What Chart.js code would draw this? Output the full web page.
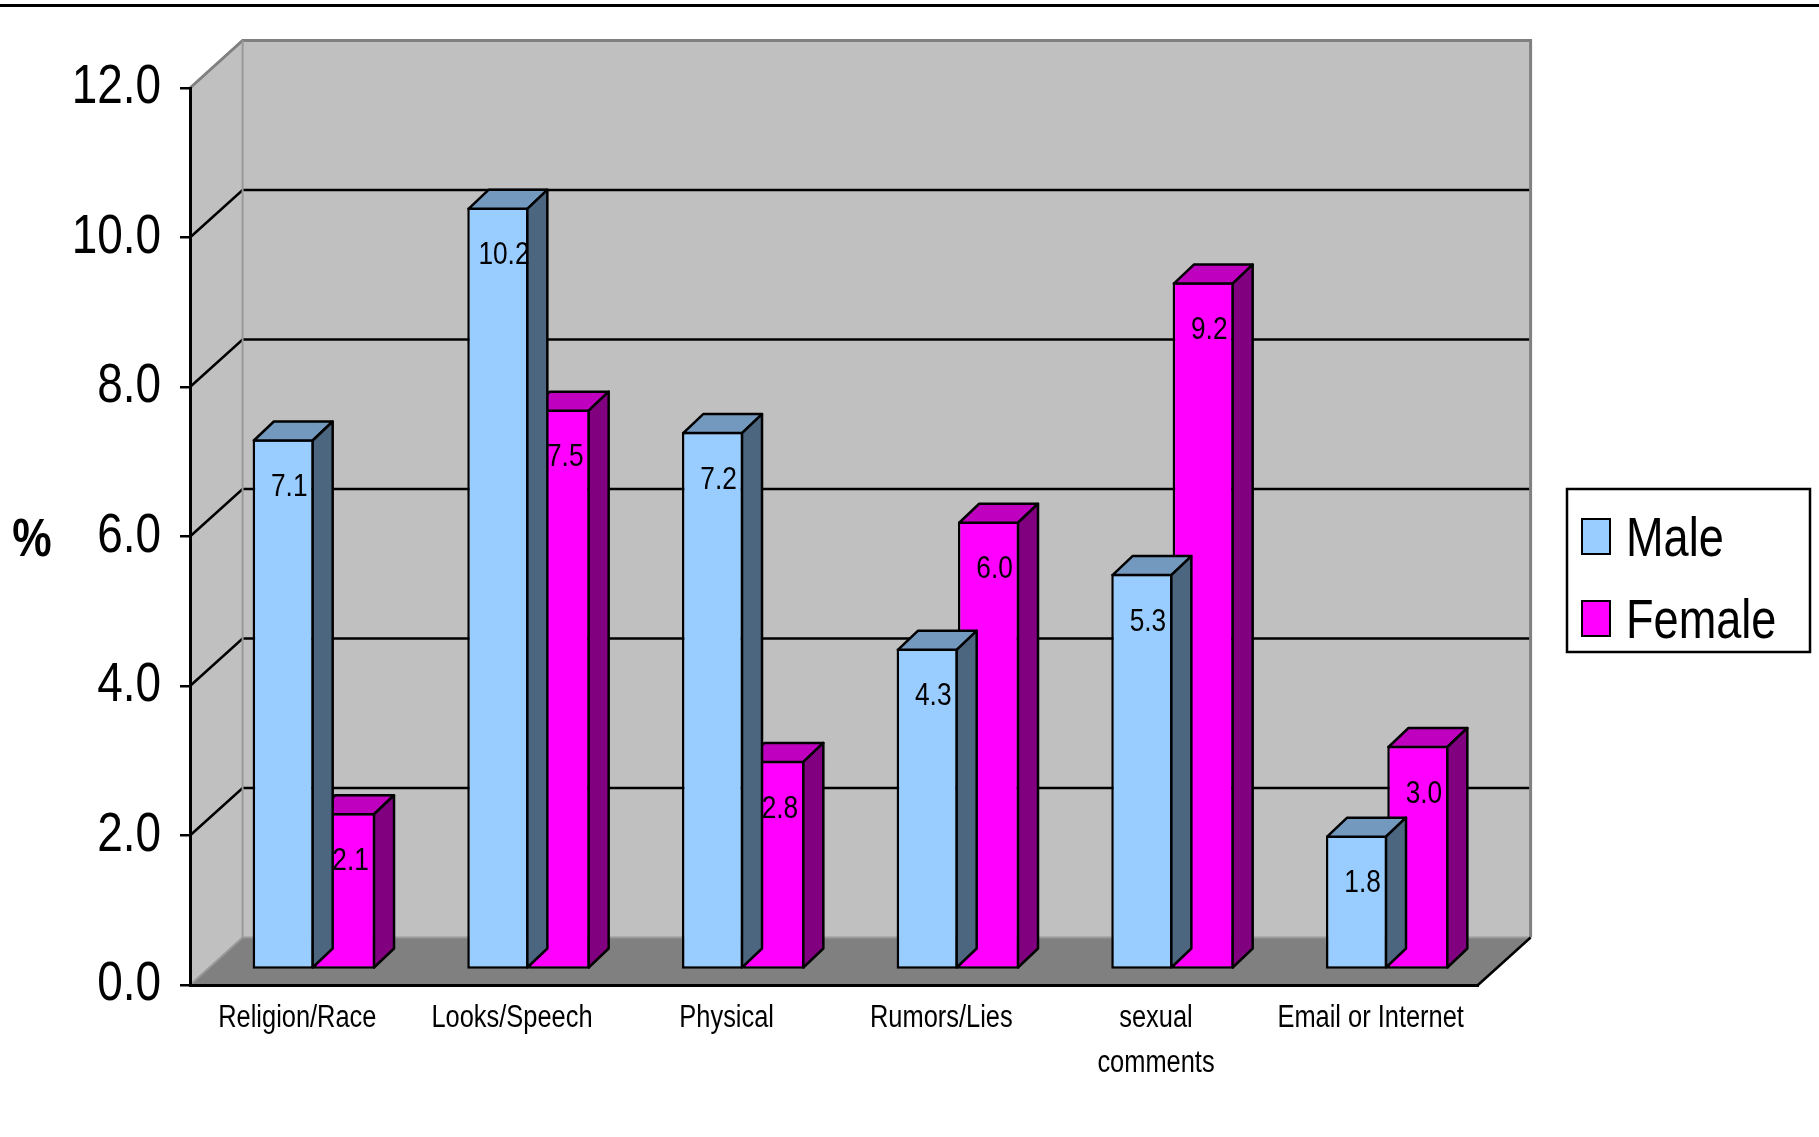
<!DOCTYPE html>
<html>
<head>
<meta charset="utf-8">
<script src="https://cdn.jsdelivr.net/npm/chart.js@4.4.0/dist/chart.umd.min.js"></script>
<style>
  html, body { margin: 0; padding: 0; background: #fff; }
</style>
</head>
<body>
<canvas id="barChart" width="1819" height="1137"></canvas>
<script>
const categories = ['Religion/Race', 'Looks/Speech', 'Physical', 'Rumors/Lies', ['sexual', 'comments'], 'Email or Internet'];
const male = [7.1, 10.2, 7.2, 4.3, 5.3, 1.8];
const female = [2.1, 7.5, 2.8, 6.0, 9.2, 3.0];
const seriesNames = ['Male', 'Female'];
const yTicks = [0, 2, 4, 6, 8, 10, 12];

const FONT = "'Liberation Sans', Arial, sans-serif";
const SQUEEZE = 0.82; // oryginal ma waskie, sciesnione litery
const frontColors = ['#99CCFF', '#FF00FF'];
const topColors = ['#7399BF', '#BF00BF'];   // gorna scianka
const sideColors = ['#4D6680', '#800080'];  // boczna scianka

// glebia wykresu 3D
const DX = 52.6, DY = 47.5;
const BAR_SHIFT_X = 16.6, BAR_SHIFT_Y = 15;
const BAR_DX = 20, BAR_DY = 19;

function poly(ctx, pts) {
    ctx.beginPath();
    ctx.moveTo(pts[0][0], pts[0][1]);
    for (let i = 1; i < pts.length; i++) ctx.lineTo(pts[i][0], pts[i][1]);
    ctx.closePath();
    ctx.fill();
    ctx.stroke();
}

function line(ctx, pts) {
    ctx.beginPath();
    ctx.moveTo(pts[0][0], pts[0][1]);
    for (let i = 1; i < pts.length; i++) ctx.lineTo(pts[i][0], pts[i][1]);
    ctx.stroke();
}

// kazdy tekst sciskany w poziomie wokol swojego punktu zaczepienia
function narrowText(ctx) {
    const orig = ctx.fillText;
    ctx.fillText = function (text, x, y) {
        this.save();
        this.translate(x, y);
        this.scale(SQUEEZE, 1);
        orig.call(this, text, 0, 0);
        this.restore();
    };
}

const walls = {
    id: 'walls',
    beforeDraw(chart) {
        const { ctx, chartArea: a, scales: { y } } = chart;
        const top = y.getPixelForValue(yTicks[yTicks.length - 1]);
        const bot = y.getPixelForValue(0);
        ctx.save();
        // czarna linia u gory
        ctx.fillStyle = '#000';
        ctx.fillRect(0, 4, chart.width, 3);

        ctx.fillStyle = '#C0C0C0';
        ctx.beginPath();
        ctx.moveTo(a.left, top);
        ctx.lineTo(a.left + DX, top - DY);
        ctx.lineTo(a.left + DX, bot - DY);
        ctx.lineTo(a.left, bot);
        ctx.closePath();
        ctx.fill();
        ctx.fillRect(a.left + DX, top - DY, a.right - a.left, bot - top);

        // podloga
        ctx.fillStyle = '#808080';
        ctx.beginPath();
        ctx.moveTo(a.left, bot);
        ctx.lineTo(a.left + DX, bot - DY);
        ctx.lineTo(a.right + DX, bot - DY);
        ctx.lineTo(a.right, bot);
        ctx.closePath();
        ctx.fill();

        // linie siatki
        ctx.strokeStyle = '#000';
        ctx.lineWidth = 2.5;
        yTicks.slice(1, -1).forEach(v => {
            const py = y.getPixelForValue(v);
            line(ctx, [[a.left, py], [a.left + DX, py - DY], [a.right + DX, py - DY]]);
        });

        // krawedzie scian
        ctx.strokeStyle = '#808080';
        ctx.lineWidth = 3;
        line(ctx, [[a.left, top], [a.left + DX, top - DY], [a.right + DX, top - DY], [a.right + DX, bot - DY]]);
        ctx.lineWidth = 2;
        ctx.strokeStyle = '#999999';
        line(ctx, [[a.left + DX, top - DY], [a.left + DX, bot - DY]]);
        line(ctx, [[a.left, bot], [a.left + DX, bot - DY], [a.right + DX, bot - DY]]);
        ctx.strokeStyle = '#000';
        ctx.lineWidth = 2.5;
        line(ctx, [[a.right + DX, bot - DY], [a.right, bot]]);
        ctx.restore();
    },
    beforeDatasetDraw(chart) {
        chart.ctx.save();
        chart.ctx.translate(BAR_SHIFT_X, -BAR_SHIFT_Y); // slupki troche w glab
    },
    afterDatasetDraw(chart, args) {
        const ctx = chart.ctx;
        const k = args.index;
        const values = chart.data.datasets[k].data;
        ctx.lineWidth = 2.5;
        ctx.strokeStyle = '#000';
        ctx.lineJoin = 'round';
        args.meta.data.forEach((bar, i) => {
            const p = bar.getProps(['x', 'y', 'base', 'width'], true);
            const L = p.x - p.width / 2 + 1.25, R = p.x + p.width / 2 - 1.25;
            const T = p.y + 1.25, B = p.base - 1.25;
            ctx.fillStyle = topColors[k];
            poly(ctx, [[L, T], [L + BAR_DX, T - BAR_DY], [R + BAR_DX, T - BAR_DY], [R, T]]);
            ctx.fillStyle = sideColors[k];
            poly(ctx, [[R, T], [R + BAR_DX, T - BAR_DY], [R + BAR_DX, B - BAR_DY], [R, B]]);

            ctx.fillStyle = '#000';
            ctx.font = '32px ' + FONT;
            ctx.textAlign = 'center';
            ctx.textBaseline = 'middle';
            ctx.fillText(values[i].toFixed(1), p.x + 6, p.y + 48);
        });
        ctx.restore();
    },
    afterDraw(chart) {
        const ctx = chart.ctx;
        ctx.save();
        // tytul osi Y
        ctx.fillStyle = '#000';
        ctx.font = 'bold 54px ' + FONT;
        ctx.textAlign = 'center';
        ctx.textBaseline = 'alphabetic';
        ctx.fillText('%', 32, 556);

        // legenda
        ctx.fillStyle = '#fff';
        ctx.fillRect(1567, 489, 243, 163);
        ctx.strokeStyle = '#000';
        ctx.lineWidth = 2.5;
        ctx.strokeRect(1567, 489, 243, 163);
        const rows = [519, 601];
        ctx.font = '55px ' + FONT;
        ctx.textAlign = 'left';
        seriesNames.forEach((name, k) => {
            ctx.fillStyle = frontColors[k];
            ctx.fillRect(1582, rows[k], 28, 35);
            ctx.lineWidth = 2;
            ctx.strokeRect(1582, rows[k], 28, 35);
            ctx.fillStyle = '#000';
            ctx.fillText(name, 1626, rows[k] + 37);
        });
        ctx.restore();
    }
};

function drawChart() {
    const ctx = document.getElementById('barChart').getContext('2d');
    narrowText(ctx);
    Chart.defaults.font.family = FONT;
    Chart.defaults.color = '#000';

    new Chart(ctx, {
        type: 'bar',
        data: {
            labels: categories,
            datasets: [
                { label: seriesNames[0], data: male, backgroundColor: frontColors[0] },
                { label: seriesNames[1], data: female, backgroundColor: frontColors[1] }
            ].map(d => Object.assign(d, {
                borderColor: '#000',
                borderWidth: 2.5,
                borderSkipped: false,
                categoryPercentage: 2 / 3.5, // gap width 150%
                barPercentage: 1,
                clip: false
            }))
        },
        options: {
            responsive: false,
            animation: false,
            layout: { padding: { top: 88, right: 341, bottom: 0, left: 0 } },
            plugins: {
                legend: { display: false },
                tooltip: { enabled: false }
            },
            scales: {
                x: {
                    grid: { display: false },
                    border: { display: true, color: '#000', width: 3 },
                    ticks: {
                        autoSkip: false,
                        maxRotation: 0,
                        padding: 3,
                        font: { size: 31, lineHeight: 1.45 }
                    },
                    afterFit: s => { s.height = 152; }
                },
                y: {
                    min: 0,
                    max: 12,
                    grid: {
                        drawOnChartArea: false,
                        drawTicks: true,
                        tickLength: 10,
                        tickColor: '#000',
                        lineWidth: 2.5
                    },
                    border: { display: true, color: '#000', width: 3 },
                    ticks: {
                        stepSize: 2,
                        padding: 19,
                        font: { size: 56 },
                        callback: v => v.toFixed(1)
                    },
                    afterFit: s => { s.width = 190; }
                }
            }
        },
        plugins: [walls]
    });
}

drawChart();
</script>
</body>
</html>
